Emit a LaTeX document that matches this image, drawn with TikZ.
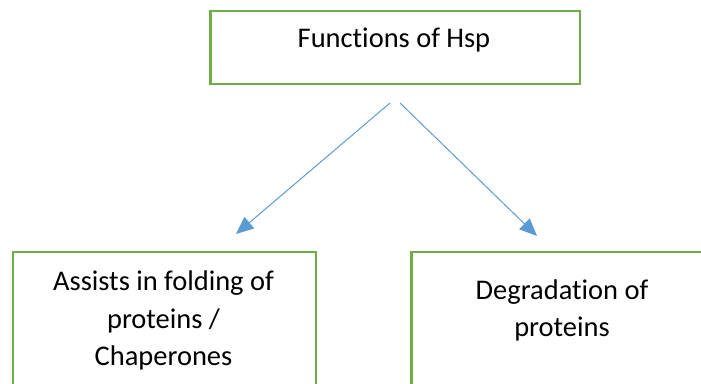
\documentclass[tikz,border=0pt]{standalone}
\usepackage{fontspec}
\setmainfont{Carlito}[Ligatures=NoCommon]
\usetikzlibrary{arrows.meta}
\definecolor{boxgreen}{RGB}{112,173,71}
\definecolor{arrowblue}{RGB}{91,155,213}
\begin{document}
\begin{tikzpicture}[x=0.02cm, y=-0.02cm,
	frame/.style={draw=boxgreen, line width=0.05cm, inner sep=0pt, anchor=north west},
	boxtext/.style={align=center, anchor=base, inner sep=0pt,
		font=\fontsize{16.2pt}{21.5pt}\selectfont},
	link/.style={draw=arrowblue, line width=0.02cm, -{Triangle[length=0.35cm, width=0.3cm]}}]
			\useasboundingbox (0,0) rectangle (701,384);
			\clip (0,0) rectangle (701,384);
			
			% boxes (the lower ones run off the page)
			\node[frame, minimum width=7.4cm, minimum height=1.46cm] (hsp) at (209,10) { };
			\node[frame, minimum width=6.06cm, minimum height=3.4cm] (fold) at (12,251) { };
			\node[frame, minimum width=6.6cm, minimum height=3.4cm] (degr) at (410,251) { };
			
			% base = baseline of the last line
			\node[boxtext] (hsptext) at (394,48) {Functions of Hsp};
			\node[boxtext] (foldtext) at (163.5,366) {Assists in folding of\\proteins /\\Chaperones};
			\node[boxtext] (degrtext) at (562,337) {Degradation of\\proteins};
			
			\coordinate (hspL) at (390,103);
			\coordinate (hspR) at (400,103);
			\coordinate (foldtip) at (236,234);
			\coordinate (degrtip) at (537,236);
			
			\foreach \a/\b in {hspL/foldtip, hspR/degrtip}
			{
				\draw[link] (\a) -- (\b);
			}
			\end{tikzpicture}
\end{document}
